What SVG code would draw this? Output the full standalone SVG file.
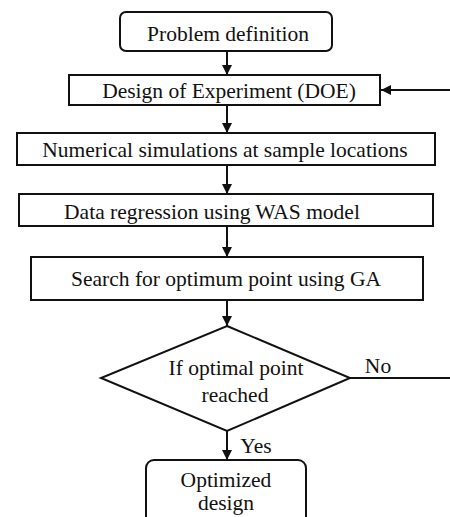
<svg xmlns="http://www.w3.org/2000/svg" width="450" height="517" viewBox="0 0 450 517">
  <defs>
    <marker id="arrow" viewBox="0 0 10 10" refX="10" refY="5" markerWidth="10" markerHeight="10" markerUnits="userSpaceOnUse" orient="auto">
      <path d="M0,0 L10,5 L0,10 Z" fill="#111"/>
    </marker>
    <style>
      .box { fill: #fff; stroke: #111; stroke-width: 2; }
      .lbl { font-size: 21.5px; fill: #111; text-anchor: middle; }
      .edge { fill: none; stroke: #111; stroke-width: 2; }
    </style>
  </defs>
  <rect width="450" height="517" fill="#fff"/>

  <g font-family="'Liberation Serif', 'DejaVu Serif', serif">
  <g id="connectors">
    <line class="edge" x1="227" y1="51" x2="227" y2="75" marker-end="url(#arrow)"/>
    <line class="edge" x1="227" y1="105" x2="227" y2="133" marker-end="url(#arrow)"/>
    <line class="edge" x1="227" y1="165" x2="227" y2="194" marker-end="url(#arrow)"/>
    <line class="edge" x1="227" y1="226" x2="227" y2="257" marker-end="url(#arrow)"/>
    <line class="edge" x1="227" y1="300" x2="227" y2="326" marker-end="url(#arrow)"/>
    <line class="edge" x1="227" y1="431" x2="227" y2="460" marker-end="url(#arrow)"/>
    <polyline class="edge" points="350,378 450,378"/>
    <line class="edge" x1="450" y1="90" x2="381" y2="90" marker-end="url(#arrow)"/>
    <text class="lbl" x="378" y="373">No</text>
    <text class="lbl" x="256" y="453">Yes</text>
  </g>

  <g id="problem-definition">
    <rect class="box" x="120" y="12" width="212" height="39" rx="6"/>
    <text class="lbl" x="228" y="41">Problem definition</text>
  </g>

  <g id="doe">
    <rect class="box" x="69" y="75" width="311" height="30"/>
    <text class="lbl" x="229" y="98">Design of Experiment (DOE)</text>
  </g>

  <g id="simulations">
    <rect class="box" x="17" y="133" width="418" height="32"/>
    <text class="lbl" x="225" y="157">Numerical simulations at sample locations</text>
  </g>

  <g id="regression">
    <rect class="box" x="19" y="194" width="414" height="32"/>
    <text class="lbl" x="212" y="219">Data regression using WAS model</text>
  </g>

  <g id="ga-search">
    <rect class="box" x="31" y="257" width="392" height="43"/>
    <text class="lbl" x="226" y="286">Search for optimum point using GA</text>
  </g>

  <g id="decision">
    <polygon class="box" points="227,326 350,378 227,431 101,378"/>
    <text class="lbl" x="236" y="375">If optimal point</text>
    <text class="lbl" x="235" y="402">reached</text>
  </g>

  <g id="optimized-design">
    <rect class="box" x="146" y="460" width="160" height="70" rx="8"/>
    <text class="lbl" x="226" y="487">Optimized</text>
    <text class="lbl" x="226" y="510">design</text>
  </g>
  </g>
</svg>
